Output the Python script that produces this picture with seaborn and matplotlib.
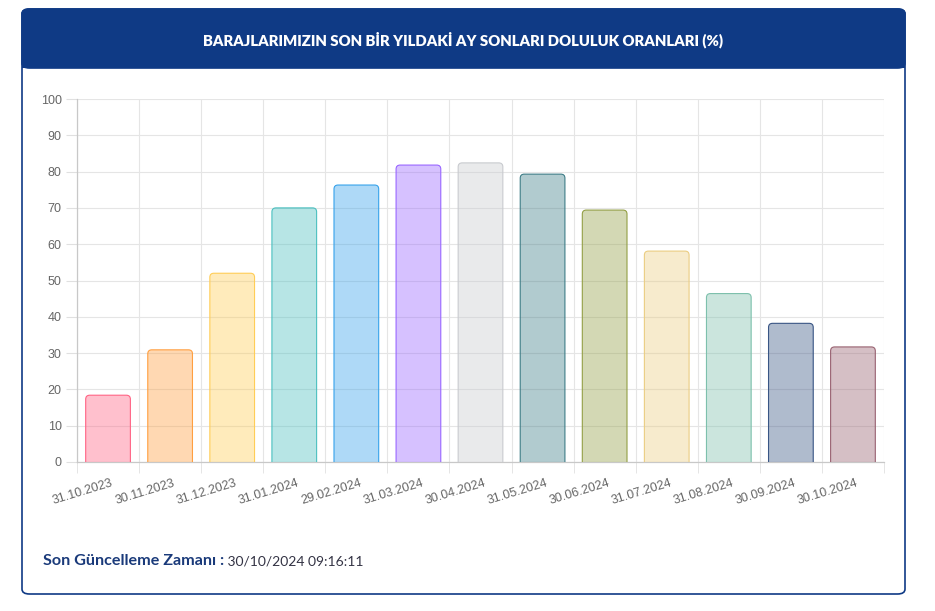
import numpy as np
import pandas as pd
import seaborn as sns
import matplotlib.pyplot as plt
from matplotlib.colors import to_rgba
from matplotlib.patches import FancyBboxPatch
from matplotlib.transforms import ScaledTranslation

dates = ['31.10.2023', '30.11.2023', '31.12.2023', '31.01.2024', '29.02.2024',
         '31.03.2024', '30.04.2024', '31.05.2024', '30.06.2024', '31.07.2024',
         '31.08.2024', '30.09.2024', '30.10.2024']
fill_pct = [18.4, 30.9, 52.0, 70.0, 76.3, 81.8, 82.4, 79.3, 69.4, 58.1, 46.4, 38.2, 31.7]
edge_colors = ['#ff6384', '#ff9f40', '#ffcd56', '#4bc0c0', '#36a2eb', '#9966ff', '#c9cbcf',
               '#3e7d87', '#939f45', '#ebcd82', '#7dc0ac', '#395584', '#986170']
title = 'BARAJLARIMIZIN SON BİR YILDAKİ AY SONLARI DOLULUK ORANLARI (%)'
footer_label = 'Son Güncelleme Zamanı :'
footer_value = ' 30/10/2024 09:16:11'

df = pd.DataFrame({'date': dates, 'pct': fill_pct})

W, H = 935, 611
fig = plt.figure(figsize=(W / 100, H / 100), dpi=100)
navy = '#0f3a85'

# card with header
card = FancyBboxPatch((22 / W, 17 / H), 883 / W, 585 / H,
                      boxstyle='round,pad=0,rounding_size=0.008',
                      transform=fig.transFigure, facecolor='white',
                      edgecolor=navy, linewidth=1.2, zorder=-3)
fig.patches.append(card)
header = FancyBboxPatch((22 / W, 543 / H), 883 / W, 59 / H,
                        boxstyle='round,pad=0,rounding_size=0.008',
                        transform=fig.transFigure, facecolor=navy,
                        edgecolor=navy, linewidth=1.2, zorder=-2)
fig.patches.append(header)
fig.patches.append(plt.Rectangle((22 / W, 543 / H), 883 / W, 20 / H,
                                 transform=fig.transFigure, facecolor=navy,
                                 edgecolor='none', zorder=-2))
fig.text(463 / W, (H - 40) / H, title, color='white', ha='center', va='center',
         fontsize=10.7, fontweight='heavy', family='Lato')

ax_l, ax_r, ax_t, ax_b = 77, 884, 99, 462
ax = fig.add_axes([ax_l / W, (H - ax_b) / H, (ax_r - ax_l) / W, (ax_b - ax_t) / H])
ax.set_zorder(2)

sns.barplot(data=df, x='date', y='pct', hue='date', palette=edge_colors,
            width=0.72, legend=False, ax=ax, saturation=1)

ax.set_ylim(0, 100)
ax.set_xlim(-0.5, len(dates) - 0.5)

# rounded tops, square bottoms (bottom hidden below axis)
px_x = (ax_r - ax_l) / len(dates)
px_y = (ax_b - ax_t) / 100
r = 4 / px_x
aspect = (4 / px_y) / r
old = list(ax.patches)
for p, ec in zip(old, edge_colors):
    x0, w, h = p.get_x(), p.get_width(), p.get_height()
    p.remove()
    fb = FancyBboxPatch((x0, -4), w, h + 4,
                        boxstyle=f'round,pad=0,rounding_size={r}',
                        mutation_aspect=aspect, facecolor=to_rgba(ec, 0.4),
                        edgecolor=ec, linewidth=0.8, zorder=3)
    ax.add_patch(fb)

ax.set_xlabel('')
ax.set_ylabel('')
ax.set_yticks(np.arange(0, 101, 10))
ax.set_xticks(range(len(dates)))
ax.set_xticks(np.arange(-0.5, len(dates), 1), minor=True)
ax.tick_params(axis='y', length=8, color='#e0e0e0', labelcolor='#666666',
               labelsize=9, pad=3)
ax.tick_params(axis='x', which='major', length=0, labelcolor='#666666',
               labelsize=9, pad=11)
ax.tick_params(axis='x', which='minor', length=8, color='#e0e0e0')
for lab in ax.get_xticklabels() + ax.get_yticklabels():
    lab.set_family('Liberation Sans')
shift = ScaledTranslation(3 / 100, 0, fig.dpi_scale_trans)
for lab in ax.get_xticklabels():
    lab.set_rotation(17)
    lab.set_ha('right')
    lab.set_rotation_mode('anchor')
    lab.set_va('top')
    lab.set_transform(lab.get_transform() + shift)

ax.grid(axis='y', which='major', color='#e5e5e5', linewidth=0.8, zorder=0)
ax.grid(axis='x', which='minor', color='#e5e5e5', linewidth=0.8, zorder=0)
ax.grid(axis='x', which='major', visible=False)
ax.set_axisbelow(True)
for s in ['top', 'right']:
    ax.spines[s].set_visible(False)
for s in ['left', 'bottom']:
    ax.spines[s].set_color('#c8c8c8')
    ax.spines[s].set_linewidth(0.9)

fs = 11.6
fig.text(43 / W, (H - 561) / H, footer_label, color='#1a3a7a', ha='left',
         va='center', fontsize=fs, fontweight='bold', family='Lato')
t = fig.text(0, 0, footer_label, fontsize=fs, fontweight='bold', family='Lato')
fig.canvas.draw()
bb = t.get_window_extent()
t.remove()
fig.text((43 + bb.width) / W, (H - 561) / H, footer_value, color='#333344',
         ha='left', va='center', fontsize=10, family='Lato')

fig.savefig('out.png', dpi=100)
